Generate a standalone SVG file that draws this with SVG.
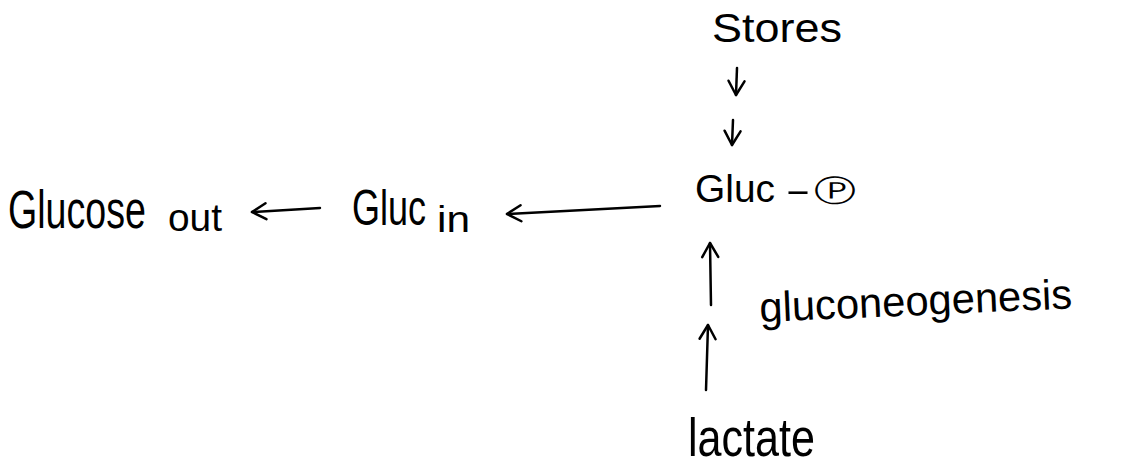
<svg xmlns="http://www.w3.org/2000/svg" width="1130" height="470" viewBox="0 0 1130 470">
<style>
text{font-family:"Liberation Sans","DejaVu Sans",sans-serif;fill:#000}
.c{stroke:#000;stroke-width:2.5;fill:none;stroke-linecap:round}
</style>
<defs>
<marker id="ah" viewBox="-16 -10 20 20" refX="0" refY="0" markerUnits="userSpaceOnUse" markerWidth="20" markerHeight="20" orient="auto">
<path d="M-14,-8 L0,0 L-14,8" fill="none" stroke="#000" stroke-width="2.5" stroke-linecap="round" stroke-linejoin="round"/>
</marker>
</defs>
<rect width="1130" height="470" fill="#fff"/>
<g id="glucose-out">
<text transform="translate(8,228) scale(1,1.4)" font-size="38" textLength="138" lengthAdjust="spacingAndGlyphs">Glucose</text>
<text x="168" y="231" font-size="38" textLength="54" lengthAdjust="spacingAndGlyphs">out</text>
</g>
<g id="gluc-in">
<text transform="translate(352,225) scale(1,1.4)" font-size="36" textLength="74" lengthAdjust="spacingAndGlyphs">Gluc</text>
<text x="437" y="232" font-size="36" textLength="33" lengthAdjust="spacingAndGlyphs">in</text>
</g>
<g id="gluc-p">
<text x="695" y="202" font-size="38" textLength="80" lengthAdjust="spacingAndGlyphs">Gluc</text>
<text x="785" y="202" font-size="34" textLength="26" lengthAdjust="spacingAndGlyphs">-</text>
<text x="814" y="201" font-size="30" font-family="DejaVu Sans" textLength="42" lengthAdjust="spacingAndGlyphs">Ⓟ</text>
</g>
<g id="stores">
<text x="712" y="42" font-size="40" textLength="130" lengthAdjust="spacingAndGlyphs">Stores</text>
</g>
<g id="lactate">
<text transform="translate(688,456) scale(1,1.25)" font-size="43" textLength="127" lengthAdjust="spacingAndGlyphs">lactate</text>
</g>
<g id="gluconeogenesis">
<text x="760" y="322" font-size="42" textLength="313" lengthAdjust="spacingAndGlyphs" transform="rotate(-2.5 760 322)">gluconeogenesis</text>
</g>
<g id="connectors">
<line class="c" x1="320" y1="208" x2="252" y2="212" marker-end="url(#ah)"/>
<line class="c" x1="660" y1="206" x2="507" y2="214" marker-end="url(#ah)"/>
<line class="c" x1="737" y1="68" x2="736" y2="95" marker-end="url(#ah)"/>
<line class="c" x1="733" y1="120" x2="732" y2="145" marker-end="url(#ah)"/>
<line class="c" x1="711" y1="305" x2="710" y2="243" marker-end="url(#ah)"/>
<line class="c" x1="706" y1="390" x2="708" y2="325" marker-end="url(#ah)"/>
</g>
</svg>
